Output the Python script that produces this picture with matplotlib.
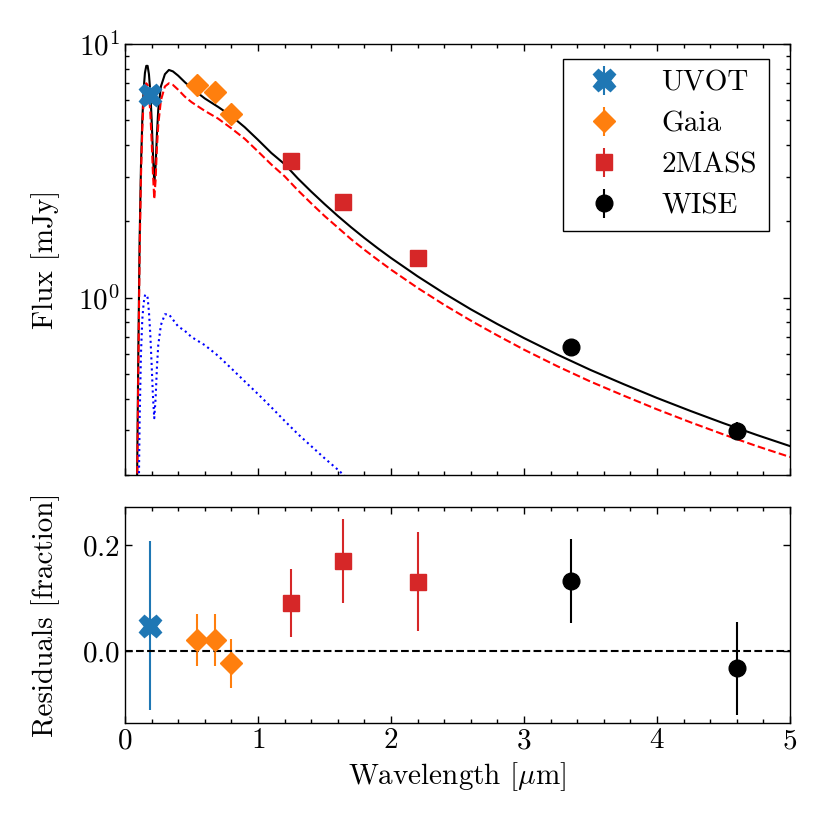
import matplotlib
matplotlib.use("Agg")
import matplotlib.pyplot as plt
from matplotlib.ticker import MultipleLocator, NullFormatter, LogLocator

plt.rcParams["font.family"] = "serif"
plt.rcParams["font.serif"] = ["cmr10"]
plt.rcParams["mathtext.fontset"] = "cm"
plt.rcParams["axes.formatter.use_mathtext"] = True
plt.rcParams["axes.unicode_minus"] = False
plt.rcParams["font.size"] = 21

# model curves (wavelength in micron, flux in mJy)
model_wave = [0.09, 0.10, 0.11, 0.12, 0.13, 0.14, 0.15, 0.16, 0.17, 0.18,
              0.19, 0.20, 0.21, 0.22, 0.23, 0.24, 0.25, 0.27, 0.30, 0.33,
              0.36, 0.40, 0.45, 0.50, 0.60, 0.70, 0.80, 0.90, 1.00, 1.10,
              1.20, 1.30, 1.40, 1.50, 1.60, 1.70, 1.80, 1.90, 2.00, 2.20,
              2.40, 2.60, 2.80, 3.00, 3.25, 3.50, 3.75, 4.00, 4.25, 4.50,
              4.75, 5.00]
model_total = [0.17, 0.6, 1.7, 3.3, 5.0, 6.6, 7.7, 8.2, 8.2, 7.6,
               6.5, 5.1, 3.7, 2.85, 3.3, 4.4, 5.5, 6.8, 7.6, 7.9,
               7.8, 7.5, 7.07, 6.7, 6.1, 5.65, 5.2, 4.7, 4.19, 3.72,
               3.36, 2.95, 2.62, 2.34, 2.10, 1.895, 1.719, 1.567, 1.434, 1.214,
               1.040, 0.900, 0.787, 0.693, 0.597, 0.519, 0.456, 0.4025, 0.358, 0.320,
               0.2877, 0.260]
model_star = [0.15, 0.5, 1.5, 3.0, 4.6, 6.0, 6.8, 7.0, 6.9, 6.3,
              5.4, 4.2, 3.1, 2.45, 2.9, 3.9, 4.8, 6.0, 6.8, 7.0,
              6.9, 6.6, 6.2, 5.9, 5.45, 5.08, 4.65, 4.23, 3.77, 3.35,
              3.01, 2.65, 2.355, 2.10, 1.89, 1.70, 1.545, 1.41, 1.29, 1.093,
              0.937, 0.812, 0.710, 0.624, 0.537, 0.467, 0.411, 0.363, 0.323, 0.289,
              0.260, 0.2355]
model_comp = [0.05, 0.12, 0.33, 0.6, 0.82, 0.95, 1.02, 1.03, 1.0, 0.88,
              0.72, 0.55, 0.41, 0.335, 0.40, 0.53, 0.65, 0.78, 0.86, 0.86,
              0.82, 0.77, 0.74, 0.70, 0.65, 0.59, 0.526, 0.468, 0.417, 0.37,
              0.327, 0.29, 0.26, 0.233, 0.21, 0.188, 0.17, 0.153, 0.138, 0.113,
              0.094, 0.080, 0.069, 0.060, 0.051, 0.044, 0.038, 0.034, 0.030, 0.027,
              0.024, 0.022]

# photometry
uvot_wave = [0.19]
uvot_flux = [6.27]
uvot_ferr = [0.5]
uvot_res = [0.048]
uvot_rerr = [0.16]

gaia_wave = [0.54, 0.675, 0.80]
gaia_flux = [6.90, 6.45, 5.30]
gaia_ferr = [0.3, 0.3, 0.25]
gaia_res = [0.021, 0.021, -0.023]
gaia_rerr = [0.049, 0.049, 0.046]

tmass_wave = [1.25, 1.64, 2.20]
tmass_flux = [3.46, 2.38, 1.44]
tmass_ferr = [0.15, 0.19, 0.08]
tmass_res = [0.091, 0.170, 0.131]
tmass_rerr = [0.064, 0.080, 0.093]

wise_wave = [3.35, 4.60]
wise_flux = [0.641, 0.299]
wise_ferr = [0.04, 0.025]
wise_res = [0.132, -0.033]
wise_rerr = [0.079, 0.087]

surveys = [
    ("UVOT", "X", "#1f77b4", 16, uvot_wave, uvot_flux, uvot_ferr, uvot_res, uvot_rerr),
    ("Gaia", "D", "#ff7f0e", 11.5, gaia_wave, gaia_flux, gaia_ferr, gaia_res, gaia_rerr),
    ("2MASS", "s", "#d62728", 12, tmass_wave, tmass_flux, tmass_ferr, tmass_res, tmass_rerr),
    ("WISE", "o", "black", 12, wise_wave, wise_flux, wise_ferr, wise_res, wise_rerr),
]

fig = plt.figure(figsize=(8.3, 8.3), dpi=100)
ax = fig.add_axes([0.1506, 0.4277, 0.8012, 0.5193])
axr = fig.add_axes([0.1506, 0.1289, 0.8012, 0.2602])

ax.plot(model_wave, model_total, color="black", lw=1.5)
ax.plot(model_wave, model_star, color="red", ls="--", lw=1.5)
ax.plot(model_wave, model_comp, color="blue", ls=":", lw=1.5)

for name, mk, col, ms, w, f, fe, r, re in surveys:
    ax.errorbar(w, f, yerr=fe, fmt=mk, color=col, ms=ms, elinewidth=1.5, label=name)
    axr.errorbar(w, r, yerr=re, fmt=mk, color=col, ms=ms, elinewidth=1.5)

axr.axhline(0.0, color="black", ls="--", lw=1.5)

ax.set_yscale("log")
ax.set_xlim(0, 5)
ax.set_ylim(0.2, 10)
ax.set_ylabel("Flux [mJy]")
ax.yaxis.set_minor_locator(LogLocator(base=10, subs=range(2, 10)))
ax.yaxis.set_minor_formatter(NullFormatter())
ax.xaxis.set_major_locator(MultipleLocator(1))
ax.xaxis.set_minor_locator(MultipleLocator(0.2))
ax.set_xticklabels([])

axr.set_xlim(0, 5)
axr.set_ylim(-0.136, 0.272)
axr.set_yticks([0.0, 0.2])
axr.xaxis.set_major_locator(MultipleLocator(1))
axr.xaxis.set_minor_locator(MultipleLocator(0.2))
axr.set_xlabel(r"Wavelength [$\mu$m]")
axr.set_ylabel("Residuals [fraction]")

for a in (ax, axr):
    a.tick_params(which="both", direction="in", top=True, right=True, width=1.0)
    a.tick_params(which="major", length=5)
    a.tick_params(which="minor", length=3)
    for s in a.spines.values():
        s.set_linewidth(1.0)

leg = ax.legend(loc="upper right", bbox_to_anchor=(0.99, 1.0), fancybox=False,
                edgecolor="black", framealpha=1, numpoints=1,
                labelspacing=0.5, handletextpad=0.97)
leg.get_frame().set_linewidth(1.0)

ax.yaxis.set_label_coords(-0.097, 0.5)
axr.yaxis.set_label_coords(-0.097, 0.5)

fig.savefig("out.png", dpi=100)
